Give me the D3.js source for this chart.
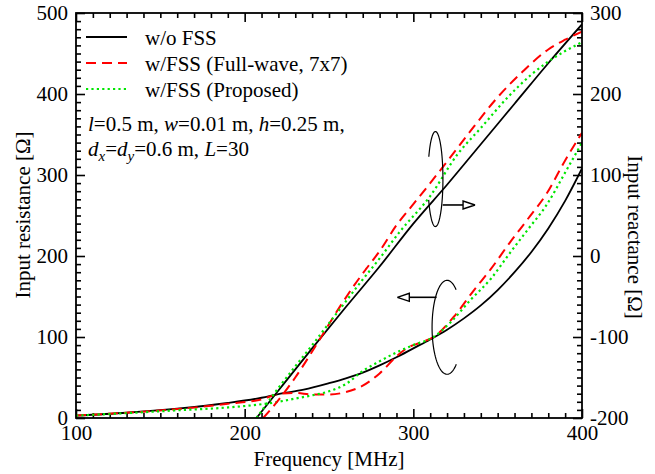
<!DOCTYPE html>
<html>
<head>
<meta charset="utf-8">
<script src="https://cdn.jsdelivr.net/npm/d3@7"></script>
<style>
body{margin:0;background:#fff;}
svg text{font-family:"Liberation Serif","Times New Roman",serif;}
</style>
</head>
<body>
<div id="plot"></div>
<script>
//Data: input resistance (left axis);
const fBlackR = [100,130,160,190,210,220,235,250,260,270,280,290,300,310,320,330,340,350,360,370,380,390,400];
const resBlack = [3,6.5,11.5,18.5,25,29.5,35,43,49,56,65,75,86,97,109,123,139,158,180,205,234,268,308];

const fRedR = [100,130,160,190,210,220,230,240,250,260,270,280,290,296,304,312,324,336,346,357,368,379,390,400];
const resRed = [3,6.5,11,17.5,23,29.5,31,29,29,32,40,55,76,86,93,100,125,158,184,216,246,277,318,352];

const fGreenR = [100,130,160,190,210,220,230,240,250,260,270,280,290,300,312,322,334,346,357,368,379,390,400];
const resGreen = [3,6,9.5,13,17,20,24,28,33,42,58,70,81,90,100,118,146,172,203,233,263,303,340];

//Data: input reactance (right axis);
const fBlackX = [207,220,240,260,280,300,320,340,360,380,400];
const reaBlack = [-200,-166,-114,-63,-13,40,88,138,188,238,286];

const fRedX = [211,220,230,243,256,265,272,280,290,300,310,322,336,350,365,380,390,400];
const reaRed = [-200,-178,-150,-108,-64,-36,-16,6,38,64,90,122,160,196,228,255,267,277];

const fGreenX = [207,220,240,260,270,280,292,310,326,340,356,370,380,390,400];
const reaGreen = [-200,-163,-110,-56,-29,-3,30,74,125,158,196,224,240,253,264];

//Ticks;
const freqTicks = [100,200,300,400];
const resTicks = [0,100,200,300,400,500];
const reaTicks = [-200,-100,0,100,200,300];

const legendNames = ["w/o FSS","w/FSS (Full-wave, 7x7)","w/FSS (Proposed)"];

//Size;
const w = 655;
const h = 474;
const pLeft = 76, pRight = 582, pTop = 13, pBottom = 418;

const svg = d3.select("#plot")
  .append("svg")
    .attr("width", w)
    .attr("height", h);

//Scales;
const xScale = d3.scaleLinear().domain([100,400]).range([pLeft,pRight]);
const rScale = d3.scaleLinear().domain([0,500]).range([pBottom,pTop]);
const xrScale = d3.scaleLinear().domain([-200,300]).range([pBottom,pTop]);

//Clip;
svg.append("clipPath").attr("id","clip")
  .append("rect")
    .attr("x",pLeft).attr("y",pTop)
    .attr("width",pRight-pLeft).attr("height",pBottom-pTop);

//Minor ticks;
const fMinor = d3.range(110,400,10).filter(d => d % 100 !== 0);
const rMinor = d3.range(10,500,10).filter(d => d % 100 !== 0);
const xMinor = d3.range(-190,300,10).filter(d => d % 100 !== 0);

function styleAxis(g){
  g.select(".domain").remove();
  g.selectAll("line").attr("stroke","#000").attr("stroke-width",1.6);
  g.attr("font-family","Liberation Serif, Times New Roman, serif")
   .attr("font-size",21);
  g.selectAll("text").attr("fill","#000");
}

const fmt = d => d < 0 ? "-" + Math.abs(d) : String(d);

//Bottom;
svg.append("g").attr("transform","translate(0,"+pBottom+")")
  .call(d3.axisBottom(xScale).tickValues(freqTicks).tickSizeInner(-9).tickSizeOuter(0).tickPadding(7).tickFormat(fmt))
  .call(styleAxis);
svg.append("g").attr("transform","translate(0,"+pBottom+")")
  .call(d3.axisBottom(xScale).tickValues(fMinor).tickSizeInner(-5).tickSizeOuter(0).tickFormat(""))
  .call(styleAxis);
//Top;
svg.append("g").attr("transform","translate(0,"+pTop+")")
  .call(d3.axisTop(xScale).tickValues(freqTicks).tickSizeInner(-9).tickSizeOuter(0).tickFormat(""))
  .call(styleAxis);
svg.append("g").attr("transform","translate(0,"+pTop+")")
  .call(d3.axisTop(xScale).tickValues(fMinor).tickSizeInner(-5).tickSizeOuter(0).tickFormat(""))
  .call(styleAxis);
//Left;
svg.append("g").attr("transform","translate("+pLeft+",0)")
  .call(d3.axisLeft(rScale).tickValues(resTicks).tickSizeInner(-9).tickSizeOuter(0).tickPadding(8).tickFormat(fmt))
  .call(styleAxis);
svg.append("g").attr("transform","translate("+pLeft+",0)")
  .call(d3.axisLeft(rScale).tickValues(rMinor).tickSizeInner(-5).tickSizeOuter(0).tickFormat(""))
  .call(styleAxis);
//Right;
svg.append("g").attr("transform","translate("+pRight+",0)")
  .call(d3.axisRight(xrScale).tickValues(reaTicks).tickSizeInner(-9).tickSizeOuter(0).tickPadding(8).tickFormat(fmt))
  .call(styleAxis);
svg.append("g").attr("transform","translate("+pRight+",0)")
  .call(d3.axisRight(xrScale).tickValues(xMinor).tickSizeInner(-5).tickSizeOuter(0).tickFormat(""))
  .call(styleAxis);

//Curves;
const series = [
  {f:fBlackR, v:resBlack, y:rScale, color:"#000", dash:null, sw:1.8},
  {f:fRedR, v:resRed, y:rScale, color:"#ff0000", dash:"10,6", sw:2},
  {f:fGreenR, v:resGreen, y:rScale, color:"#00e600", dash:"2.2,3.2", sw:2.2},
  {f:fBlackX, v:reaBlack, y:xrScale, color:"#000", dash:null, sw:1.8},
  {f:fRedX, v:reaRed, y:xrScale, color:"#ff0000", dash:"10,6", sw:2},
  {f:fGreenX, v:reaGreen, y:xrScale, color:"#00e600", dash:"2.2,3.2", sw:2.2}
];

const plotArea = svg.append("g").attr("clip-path","url(#clip)");

series.forEach(function(s){
  const pts = s.f.map((f,i) => [f, s.v[i]]);
  const line = d3.line()
    .x(d => xScale(d[0]))
    .y(d => s.y(d[1]))
    .curve(d3.curveMonotoneX);
  plotArea.append("path")
    .attr("d", line(pts))
    .attr("fill","none")
    .attr("stroke", s.color)
    .attr("stroke-width", s.sw)
    .attr("stroke-dasharray", s.dash);
});

//Frame;
svg.append("rect")
  .attr("x",pLeft).attr("y",pTop)
  .attr("width",pRight-pLeft).attr("height",pBottom-pTop)
  .attr("fill","none").attr("stroke","#000").attr("stroke-width",1.8);

//Annotations (ellipse + arrow);
function ellipsePts(cx,cy,rx,ry,a0,a1){
  return d3.range(a0,a1+0.01,3).map(a => [cx+rx*Math.cos(a*Math.PI/180), cy+ry*Math.sin(a*Math.PI/180)]);
}
const plain = d3.line().curve(d3.curveLinear);

function arrow(x0,x1,y){
  const dir = x1 > x0 ? 1 : -1;
  svg.append("line")
    .attr("x1",x0).attr("x2",x1-dir*12).attr("y1",y).attr("y2",y)
    .attr("stroke","#000").attr("stroke-width",1.6);
  svg.append("path")
    .attr("d", plain([[x1,y],[x1-dir*12,y-4],[x1-dir*12,y+4],[x1,y]]))
    .attr("fill","#fff").attr("stroke","#000").attr("stroke-width",1.4);
}

//Reactance marker (points to right axis);
const upC = [xScale(313.1), xrScale(95)];
svg.append("path")
  .attr("d", plain(ellipsePts(upC[0],upC[1],7.5,47.5,-152,155)))
  .attr("fill","none").attr("stroke","#000").attr("stroke-width",1.2);
arrow(xScale(317.4), xScale(336.6), xrScale(63));

//Resistance marker (points to left axis);
const loC = [xScale(320), rScale(112)];
svg.append("path")
  .attr("d", plain(ellipsePts(loC[0],loC[1],15,47,52,308)))
  .attr("fill","none").attr("stroke","#000").attr("stroke-width",1.2);
arrow(xScale(313.8), xScale(290.5), rScale(149));

//Legend;
const legendY = [45,71,97];
const legendStyle = [series[0],series[1],series[2]];
legendNames.forEach(function(name,i){
  svg.append("line")
    .attr("x1",86).attr("x2",127)
    .attr("y1",legendY[i]-8).attr("y2",legendY[i]-8)
    .attr("stroke",legendStyle[i].color)
    .attr("stroke-width",legendStyle[i].sw)
    .attr("stroke-dasharray",legendStyle[i].dash);
  svg.append("text")
    .attr("x",145).attr("y",legendY[i])
    .attr("font-size",21)
    .text(name);
});

//Parameters;
const p1 = svg.append("text").attr("x",88).attr("y",131).attr("font-size",21);
p1.append("tspan").attr("font-style","italic").text("l");
p1.append("tspan").text("=0.5 m, ");
p1.append("tspan").attr("font-style","italic").text("w");
p1.append("tspan").text("=0.01 m, ");
p1.append("tspan").attr("font-style","italic").text("h");
p1.append("tspan").text("=0.25 m,");

const p2 = svg.append("text").attr("x",88).attr("y",156).attr("font-size",21);
p2.append("tspan").attr("font-style","italic").text("d");
p2.append("tspan").attr("font-style","italic").attr("font-size",15).attr("dy",5).text("x");
p2.append("tspan").attr("dy",-5).text("=");
p2.append("tspan").attr("font-style","italic").text("d");
p2.append("tspan").attr("font-style","italic").attr("font-size",15).attr("dy",5).text("y");
p2.append("tspan").attr("dy",-5).text("=0.6 m, ");
p2.append("tspan").attr("font-style","italic").text("L");
p2.append("tspan").text("=30");

//Axis titles;
svg.append("text")
  .attr("x",(pLeft+pRight)/2).attr("y",466)
  .attr("text-anchor","middle").attr("font-size",21)
  .text("Frequency [MHz]");

svg.append("text")
  .attr("transform","translate(30,215) rotate(-90)")
  .attr("text-anchor","middle").attr("font-size",21)
  .text("Input resistance [Ω]");

svg.append("text")
  .attr("transform","translate(628,237) rotate(90)")
  .attr("text-anchor","middle").attr("font-size",21)
  .text("Input reactance [Ω]");
</script>
</body>
</html>
